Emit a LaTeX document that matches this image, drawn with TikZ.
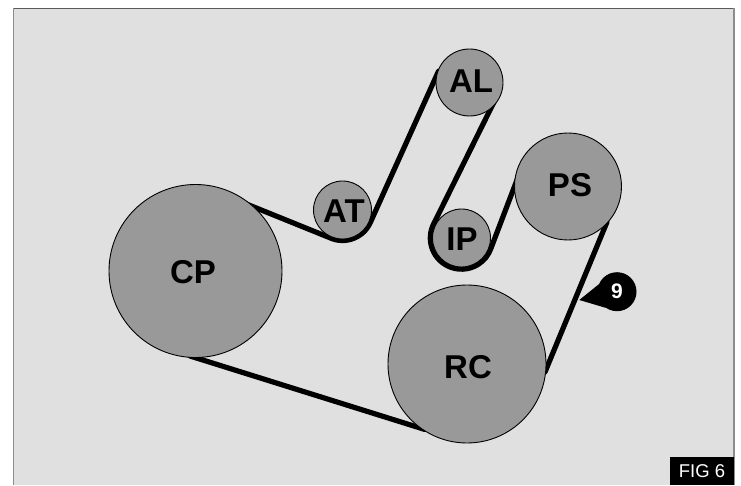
\documentclass[tikz,border=0pt]{standalone}
\usepackage{fontspec}
\setmainfont{Liberation Sans}
\usetikzlibrary{calc,backgrounds}
\definecolor{panel}{HTML}{E0E0E0}
\definecolor{pulleygrey}{HTML}{999999}
\tikzset{
  pulley/.style={circle,draw=black,line width=0.9pt,fill=pulleygrey,inner sep=0pt},
  pulleytext/.style={inner sep=0pt,text=black,font=\fontsize{33}{33}\selectfont\bfseries},
  beltline/.style={draw=black,line width=5.2pt,line join=round},
  callout/.style={circle,fill=black,text=white,inner sep=0pt,minimum size=39pt,
    font=\fontsize{21}{21}\selectfont\bfseries},
  figtag/.style={fill=black,text=white,inner sep=0pt,minimum width=64pt,minimum height=28pt,
    font=\fontsize{18.5}{18.5}\selectfont}
}
\begin{document}
\begin{tikzpicture}[x=1pt,y=1pt]
\useasboundingbox (0,0) rectangle (741,485);
% pulleys
\node[pulley,minimum size=173pt] (CP) at (195.5,214) {};
\node[pulley,minimum size=58pt]  (AT) at (342.5,275) {};
\node[pulley,minimum size=67pt]  (AL) at (469.5,402.5) {};
\node[pulley,minimum size=58pt]  (IP) at (461.5,247) {};
\node[pulley,minimum size=107pt] (PS) at (568,298.5) {};
\node[pulley,minimum size=158pt] (RC) at (467,121) {};
% pulley labels
\node[pulleytext] (tCP) at (193,213) {CP};
\node[pulleytext] (tAT) at (344,274) {AT};
\node[pulleytext] (tAL) at (471,404) {AL};
\node[pulleytext] (tIP) at (462,246) {IP};
\node[pulleytext] (tPS) at (570,300) {PS};
\node[pulleytext] (tRC) at (468,118) {RC};
% callout and tag
\node[callout] (bub) at (617,193.3) {9};
\coordinate (tip) at (579.3,185);
\node[figtag] (fig) at (702,14) {FIG 6};
\begin{pgfonlayer}{background}
  \fill[white] (0,0) rectangle (741,485);
  \fill[panel] (13,0) rectangle (734,476);
  \draw[line width=1pt,color=black!65] (13.5,476.5) -- (734,476.5);
  \draw[line width=1.2pt,color=black!45] (13.5,0) -- (13.5,476.5);
  \draw[line width=1.2pt,color=black!45] (734,0) -- (734,476.5);
  \draw[beltline]
    ($(CP)+(41,71)$) -- ($(AT)+(-115:30.5)$)
    arc[start angle=-115,end angle=-25,radius=30.5]
    -- ($(AL)+(-31,11.3)$) -- ($(AL)+(24.5,-19.5)$)
    -- ($(IP)+(152.6:31.2)$)
    arc[start angle=152.6,end angle=341,radius=31.2]
    -- ($(PS)+(-48,14.5)$) -- ($(PS)+(39,-35.5)$)
    -- ($(RC)+(78,-8)$) -- ($(RC)+(-42,-65.5)$)
    -- ($(CP)+(-5.5,-85)$) -- cycle;
\end{pgfonlayer}
\fill[black] (bub.158) -- (tip) -- (bub.235) -- cycle;
\end{tikzpicture}
\end{document}
